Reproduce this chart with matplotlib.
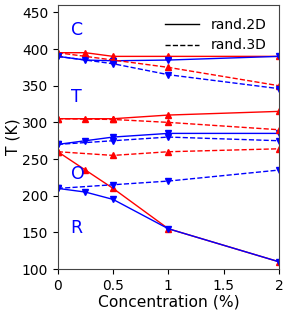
import matplotlib
matplotlib.use("Agg")
import matplotlib.pyplot as plt
from matplotlib.lines import Line2D

# concentrations (%)
x2d = [0, 0.25, 0.5, 1, 2]
x3d = [0, 0.5, 1, 2]

# transition temperatures (K), red = heating (up), blue = cooling (down)
ct_up_2d = [395, 395, 390, 390, 390]
ct_dn_2d = [390, 385, 384, 385, 390]
ct_up_3d = [395, 385, 375, 350]
ct_dn_3d = [390, 380, 365, 346]

to_up_2d = [305, 305, 305, 310, 315]
to_dn_2d = [270, 275, 280, 285, 285]
to_up_3d = [305, 304, 300, 290]
to_dn_3d = [270, 275, 280, 275]

or_up_2d = [260, 235, 210, 155, 110]
or_dn_2d = [210, 205, 195, 155, 110]
or_up_3d = [260, 255, 260, 264]
or_dn_3d = [210, 215, 220, 235]

phase_labels = ["C", "T", "O", "R"]
phase_y = [426, 334, 230, 156]

fig = plt.figure(figsize=(2.89, 3.14), dpi=100)
ax = fig.add_axes([0.2, 0.143, 0.765, 0.841])

ms = 4.5
for y in [ct_up_2d, to_up_2d, or_up_2d]:
    ax.plot(x2d, y, '-', color='red', marker='^', ms=ms, lw=1)
for y in [ct_dn_2d, to_dn_2d, or_dn_2d]:
    ax.plot(x2d, y, '-', color='blue', marker='v', ms=ms, lw=1)
for y in [ct_up_3d, to_up_3d, or_up_3d]:
    ax.plot(x3d, y, '--', color='red', marker='^', ms=ms, lw=1)
for y in [ct_dn_3d, to_dn_3d, or_dn_3d]:
    ax.plot(x3d, y, '--', color='blue', marker='v', ms=ms, lw=1)

for lab, yy in zip(phase_labels, phase_y):
    ax.text(0.115, yy, lab, color='blue', fontsize=12.5, ha='left', va='center')

handles = [Line2D([], [], color='black', ls='-', lw=1),
           Line2D([], [], color='black', ls='--', lw=1)]
ax.legend(handles, ['rand.2D', 'rand.3D'], loc='upper right', frameon=False,
          fontsize=10, handlelength=2.5)

ax.set_xlim(0, 2)
ax.set_ylim(100, 460)
ax.set_xticks([0, 0.5, 1, 1.5, 2])
ax.set_xticklabels(['0', '0.5', '1', '1.5', '2'])
ax.set_yticks(range(100, 451, 50))
ax.tick_params(labelsize=10)
ax.set_xlabel('Concentration (%)', fontsize=11.2, labelpad=1)
ax.set_ylabel('T (K)', fontsize=11.2, labelpad=1)
for s in ax.spines.values():
    s.set_color('#444444')

fig.savefig('out.png', dpi=100)
